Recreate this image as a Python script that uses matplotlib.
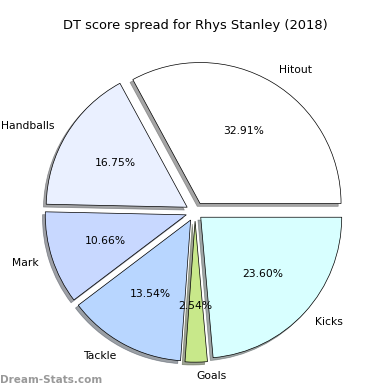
import matplotlib.pyplot as plt

labels = ["Hitout", "Handballs", "Mark", "Tackle", "Goals", "Kicks"]
shares = [32.91, 16.75, 10.66, 13.54, 2.54, 23.60]
colors = ["#ffffff", "#eaf0ff", "#c8d8ff", "#b8d6ff", "#c8e88a", "#d8ffff"]
explode = [0.07, 0.065, 0.065, 0.065, 0.065, 0.055]

fig = plt.figure(figsize=(390 / 72, 390 / 72), dpi=72)
ax = fig.add_axes([0, 0, 1, 1])
ax.pie(shares, labels=labels, colors=colors, explode=explode,
       autopct="%.2f%%", startangle=0, shadow=True, labeldistance=1.1,
       wedgeprops={"edgecolor": "black", "linewidth": 0.7},
       textprops={"fontsize": 10.8})
ax.set_aspect("equal")
cx, cy, r = 195, 212, 141
ax.set_xlim(-cx / r, (390 - cx) / r)
ax.set_ylim(-(390 - cy) / r, cy / r)
ax.axis("off")
fig.text(0.5, 0.935, "DT score spread for Rhys Stanley (2018)", ha="center",
         va="center", fontsize=13)
fig.text(0.0, 0.025, "Dream-Stats.com", ha="left", va="center",
         fontsize=10.4, color="#999999", fontweight="bold")
fig.savefig("out.png", dpi=72)
